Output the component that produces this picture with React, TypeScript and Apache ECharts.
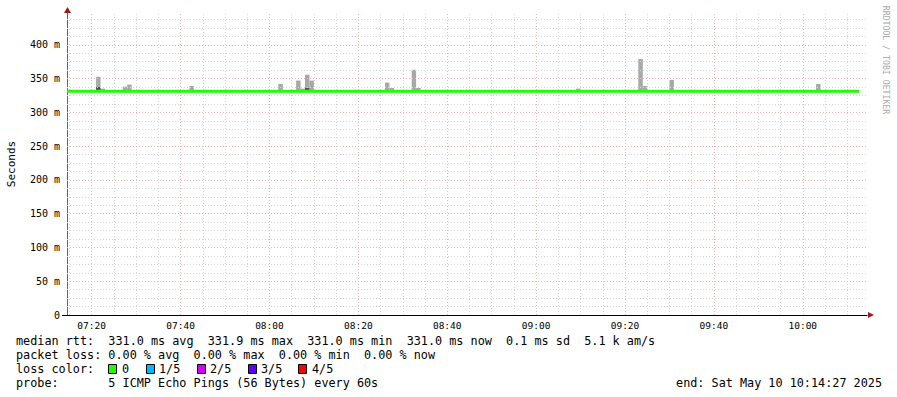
import React, { useEffect, useRef } from "react";
import * as echarts from "echarts";

// ---- data ----
const startTime = "07:14:27";
const endTime = "10:14:27";
const majorTicks = ["07:20", "07:40", "08:00", "08:20", "08:40", "09:00", "09:20", "09:40", "10:00"];
const minorTicks = [
  "07:15", "07:25", "07:30", "07:35", "07:45", "07:50", "07:55",
  "08:05", "08:10", "08:15", "08:25", "08:30", "08:35", "08:45", "08:50", "08:55",
  "09:05", "09:10", "09:15", "09:25", "09:30", "09:35", "09:45", "09:50", "09:55",
  "10:05", "10:10",
];
const yTickLabels = [0, 50, 100, 150, 200, 250, 300, 350, 400];
const yMinorStep = 12.5;
const yMax = 447;

// smoke (ping spread per 60s step), values in ms
const spikeTimes = ["07:21", "07:22", "07:27", "07:28", "07:42", "08:02", "08:06", "08:07", "08:08", "08:09",
  "08:26", "08:27", "08:32", "08:33", "09:09", "09:23", "09:24", "09:30", "10:03"];
const spikeMin = [331, 331, 331, 331, 331, 331, 331, 331, 331, 331, 331, 331, 331, 331, 331, 331, 331, 331, 331];
const spikeMax = [352.6, 335, 338, 341, 339, 342, 347, 335, 355.6, 347, 344, 336, 363, 336, 335, 379, 339, 348, 342];
const spikeInner: (number | null)[] = [337.5, null, null, null, null, null, null, null, 336, null, null, null, null, null, null, null, null, null, null];

// median rtt line (loss 0)
const medianTimes = ["07:14:27", "10:12:40"];
const medianValues = [331.0, 331.0];

const legendRows = [
  "median rtt:  331.0 ms avg  331.9 ms max  331.0 ms min  331.0 ms now  0.1 ms sd  5.1 k am/s",
  "packet loss: 0.00 % avg  0.00 % max  0.00 % min  0.00 % now",
];
const lossLabels = ["0", "1/5", "2/5", "3/5", "4/5"];
const lossColors = ["#20ff00", "#00b8ff", "#d400ff", "#5e00ff", "#ff0000"];
const probeText = "probe:       5 ICMP Echo Pings (56 Bytes) every 60s";
const endText = "end: Sat May 10 10:14:27 2025";

const toMin = (s: string) => {
  const p = s.split(":");
  return +p[0] * 60 + +p[1] + (p[2] ? +p[2] / 60 : 0);
};
const fmt = (v: number) => {
  const m = Math.round(v);
  const h = Math.floor(m / 60);
  const mm = m % 60;
  return (h < 10 ? "0" : "") + h + ":" + (mm < 10 ? "0" : "") + mm;
};

const FONT = "DejaVu Sans Mono";
const MINOR = "#d6d6d6";
const MAJOR = "#f0b4b4";

export default function App() {
  const ref = useRef<HTMLDivElement>(null);
  useEffect(() => {
    document.body.style.margin = "0";
    const chart = echarts.init(ref.current!, null, { renderer: "svg" });
    const xmin = toMin(startTime);
    const xmax = toMin(endTime);

    const rectItem = (fill: string) => (params: any, api: any) => {
      const t = api.value(0);
      const lo = api.value(1);
      const hi = api.value(2);
      const p1 = api.coord([t, hi]);
      const p2 = api.coord([t + 1, lo]);
      return {
        type: "rect",
        shape: { x: p1[0], y: p1[1], width: p2[0] - p1[0], height: p2[1] - p1[1] },
        style: { fill },
      };
    };

    const gridLines: any[] = [];
    minorTicks.forEach((t) => gridLines.push({ xAxis: toMin(t), lineStyle: { color: MINOR, type: [1, 2], width: 1 } }));
    majorTicks.forEach((t) => gridLines.push({ xAxis: toMin(t), lineStyle: { color: MAJOR, type: [1, 2], width: 1 } }));
    for (let v = yMinorStep; v < yMax; v += yMinorStep) {
      if (v % 50 !== 0) gridLines.push({ yAxis: v, lineStyle: { color: MINOR, type: [1, 2], width: 1 } });
    }
    yTickLabels.filter((v) => v > 0).forEach((v) =>
      gridLines.push({ yAxis: v, lineStyle: { color: MAJOR, type: [1, 2], width: 1 } })
    );

    const texts: any[] = [];
    const txt = (x: number, y: number, text: string, opts: any = {}) => ({
      type: "text",
      x,
      y,
      rotation: opts.rotation || 0,
      style: {
        text,
        fontFamily: FONT,
        fontSize: opts.fontSize || 11.8,
        fill: opts.fill || "#000",
        align: opts.align || "left",
        verticalAlign: "middle",
        textAlign: opts.align || "left",
        textVerticalAlign: "middle",
      },
    });
    texts.push(txt(16, 341, legendRows[0]));
    texts.push(txt(16, 355, legendRows[1]));
    texts.push(txt(16, 369, "loss color:"));
    const boxX = [108, 146, 197, 248, 298];
    const labX = [122, 159, 210, 261, 312];
    lossLabels.forEach((l, i) => {
      texts.push({
        type: "rect",
        shape: { x: boxX[i] + 0.5, y: 364.5, width: 8, height: 9 },
        style: { fill: lossColors[i], stroke: "#000", lineWidth: 1 },
      });
      texts.push(txt(labX[i], 369, l));
    });
    texts.push(txt(16, 383, probeText));
    texts.push(txt(882, 383, endText, { align: "right" }));
    texts.push(txt(11, 164, "Seconds", { rotation: Math.PI / 2, align: "center", fontSize: 11 }));
    texts.push(txt(886, 60, "RRDTOOL / TOBI OETIKER", { rotation: -Math.PI / 2, align: "center", fontSize: 8.2, fill: "#aaaaaa" }));
    // axis arrows
    texts.push({ type: "polygon", shape: { points: [[868, 312], [868, 318], [874, 315]] }, style: { fill: "#a01818" } });
    texts.push({ type: "line", shape: { x1: 67.5, y1: 13, x2: 67.5, y2: 10 }, style: { stroke: "#666", lineWidth: 1 } });
    texts.push({ type: "polygon", shape: { points: [[64, 13], [71, 13], [67.5, 7]] }, style: { fill: "#a01818" } });
    texts.push({ type: "line", shape: { x1: 62, y1: 315.5, x2: 67, y2: 315.5 }, style: { stroke: "#000", lineWidth: 1 } });

    chart.setOption({
      animation: false,
      backgroundColor: "#ffffff",
      grid: { left: 67, top: 13, width: 800, height: 302, containLabel: false },
      xAxis: {
        type: "value",
        min: xmin,
        max: xmax,
        axisLine: { show: true, lineStyle: { color: "#000", width: 1 } },
        axisTick: { show: false },
        splitLine: { show: false },
        axisLabel: {
          customValues: majorTicks.map(toMin),
          formatter: (v: number) => fmt(v),
          fontFamily: FONT,
          fontSize: 9.5,
          color: "#000",
          margin: 5,
        },
      },
      yAxis: {
        type: "value",
        min: 0,
        max: yMax,
        interval: 50,
        axisLine: { show: true, lineStyle: { color: "#666", width: 1 } },
        axisTick: { show: false },
        splitLine: { show: false },
        axisLabel: {
          showMaxLabel: false,
          formatter: (v: number) => (v === 0 ? "0" : v + " m"),
          fontFamily: FONT,
          fontSize: 10,
          color: "#000",
          margin: 7,
        },
      },
      series: [
        {
          type: "custom",
          name: "smoke",
          renderItem: rectItem("#a8a8a8"),
          data: spikeTimes.map((t, i) => [toMin(t), spikeMin[i], spikeMax[i]]),
          encode: { x: 0, y: 2 },
          z: 2,
          silent: true,
        },
        {
          type: "custom",
          name: "smokeInner",
          renderItem: rectItem("#505050"),
          data: spikeTimes
            .map((t, i) => (spikeInner[i] == null ? null : [toMin(t), spikeMin[i], spikeInner[i]]))
            .filter((d) => d != null),
          encode: { x: 0, y: 2 },
          z: 3,
          silent: true,
        },
        {
          type: "line",
          name: "grid",
          data: [],
          z: 4,
          silent: true,
          markLine: {
            silent: true,
            symbol: ["none", "none"],
            label: { show: false },
            emphasis: { disabled: true },
            data: gridLines,
          },
        },
        {
          type: "line",
          name: "median rtt",
          data: medianTimes.map((t, i) => [toMin(t), medianValues[i]]),
          symbol: "none",
          lineStyle: { color: lossColors[0], width: 3 },
          z: 5,
          silent: true,
        },
      ],
      graphic: texts,
    });
    return () => chart.dispose();
  }, []);
  return <div ref={ref} style={{ width: 897, height: 397 }} />;
}
